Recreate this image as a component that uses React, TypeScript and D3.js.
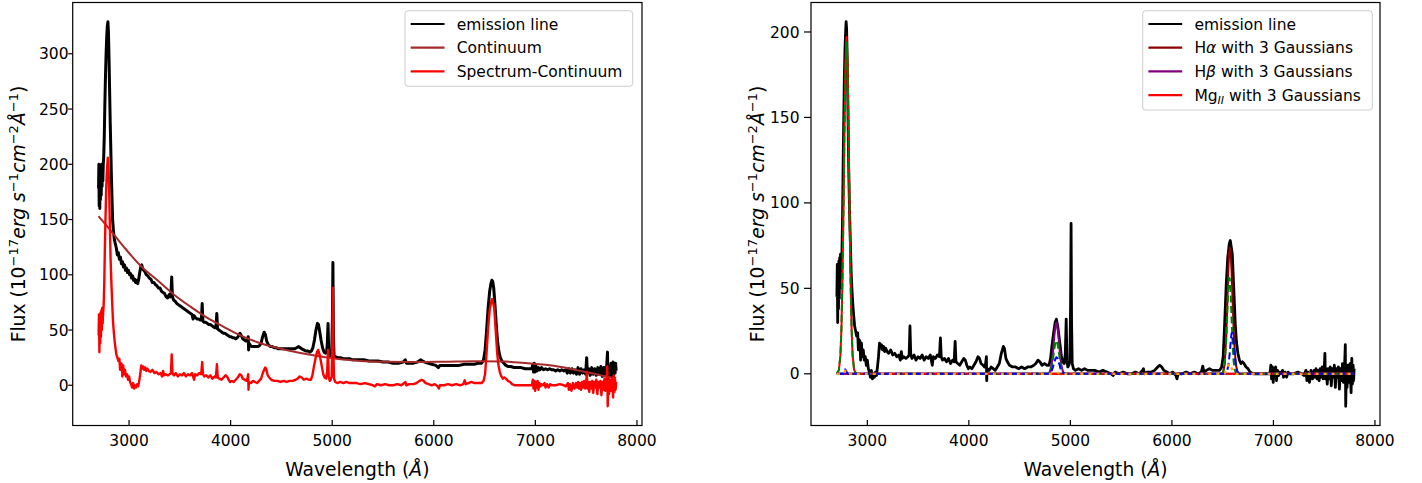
import React from 'react';
import * as d3 from 'd3';

type P = [number, number];

// Observed spectrum (left, black)
const observedSpectrum: P[] = [[2700,178],[2703,200],[2706,162],[2709,195],[2712,160],[2715,198],[2718,168],[2722,196],[2726,172],[2730,200],[2734,180],[2738,195],[2742,185],[2746,200],[2750,205],[2756,225],[2762,255],[2768,280],[2774,300],[2780,315],[2786,325],[2792,329],[2797,320],[2802,300],[2808,270],[2814,240],[2820,215],[2826,190],[2832,170],[2838,150],[2846,140],[2855,132],[2865,128],[2875,124],[2885,118],[2895,120],[2905,114],[2915,116],[2925,110],[2935,112],[2945,107],[2955,109],[2965,104],[2975,106],[2985,102],[2995,104],[3005,100],[3015,101],[3025,97],[3035,99],[3045,95],[3055,96],[3065,93],[3075,95],[3085,92],[3095,96],[3105,102],[3115,107],[3125,109],[3135,105],[3145,104],[3155,103],[3170,100],[3185,99],[3200,97],[3215,96],[3230,93],[3245,93],[3260,91],[3275,90],[3290,88],[3305,88],[3320,85],[3335,84],[3350,83],[3365,80],[3380,79],[3395,82],[3405,80],[3412,82],[3420,98],[3427,80],[3440,77],[3455,76],[3470,74],[3485,73],[3500,72],[3515,71],[3530,70],[3545,69],[3560,68],[3575,67],[3590,66],[3605,65],[3620,64],[3630,60],[3640,63],[3655,61],[3670,60],[3685,60],[3700,59],[3712,59],[3720,74],[3727,58],[3740,57],[3755,57],[3770,56],[3785,55],[3800,55],[3815,54],[3830,53],[3845,52],[3855,52],[3864,65],[3871,51],[3885,50],[3900,49],[3915,48],[3930,47],[3945,47],[3960,46],[3975,45],[3990,44],[4005,44],[4020,43],[4035,43],[4050,42],[4065,43],[4080,45],[4092,47],[4105,45],[4120,42],[4135,41],[4150,40],[4165,40],[4173,44],[4177,32],[4182,38],[4195,36],[4210,35],[4225,35],[4240,35],[4255,35],[4270,35],[4285,36],[4300,38],[4315,44],[4330,48],[4342,46],[4355,40],[4370,37],[4390,35],[4410,35],[4430,34],[4450,34],[4470,33],[4490,33],[4510,33],[4530,33],[4550,33],[4570,33],[4590,33],[4610,33],[4630,33],[4650,34],[4670,35],[4685,34],[4700,33],[4720,32],[4740,31],[4760,31],[4780,30],[4795,31],[4810,34],[4825,41],[4840,50],[4855,56],[4865,55],[4878,48],[4890,41],[4905,34],[4920,30],[4935,29],[4945,30],[4952,38],[4959,56],[4965,32],[4972,27],[4985,27],[4995,28],[5002,60],[5007,111],[5012,45],[5018,27],[5030,26],[5050,25],[5080,25],[5110,24],[5140,24],[5170,24],[5200,23],[5240,23],[5280,23],[5320,23],[5360,22],[5400,22],[5450,22],[5500,21],[5550,21],[5600,20],[5650,20],[5700,21],[5720,23],[5730,20],[5760,20],[5800,20],[5840,21],[5870,23],[5890,22],[5910,21],[5940,20],[5980,19],[6020,18],[6045,16],[6060,18],[6100,18],[6150,18],[6200,18],[6250,18],[6300,19],[6350,19],[6400,19],[6440,20],[6470,20],[6490,23],[6505,32],[6520,50],[6535,70],[6550,85],[6562,92],[6572,95],[6580,94],[6590,88],[6600,76],[6610,62],[6620,48],[6630,38],[6642,30],[6655,25],[6670,22],[6690,20],[6710,18],[6730,17],[6760,17],[6790,16],[6820,16],[6860,16],[6900,15],[6940,15],[6965,15],[6975,19],[6982,12],[6990,20],[6998,12],[7008,17],[7018,13],[7030,16],[7045,14],[7060,16],[7080,14],[7100,15],[7120,14],[7140,15],[7160,14],[7180,14],[7200,13],[7220,14],[7240,13],[7260,14],[7280,13],[7300,14],[7315,11],[7330,15],[7345,11],[7360,15],[7375,11],[7390,14],[7405,10],[7420,16],[7435,10],[7450,15],[7465,11],[7480,14],[7495,10],[7505,25],[7512,11],[7525,15],[7540,9],[7555,16],[7570,10],[7585,15],[7600,9],[7615,16],[7630,10],[7645,17],[7660,8],[7675,16],[7690,10],[7700,14],[7710,30],[7714,6],[7722,17],[7732,9],[7745,20],[7755,8],[7765,21],[7772,10],[7778,19],[7785,11],[7790,20],[7795,13]];

// Continuum fit (left, brown)
const continuumFit: P[] = [[2700,153],[2820,140],[2951,125],[3115,108],[3280,95],[3443,82],[3607,71],[3771,61],[3936,52.7],[4100,45],[4264,39],[4428,34.6],[4592,31],[4756,28],[4920,25.6],[5085,23.5],[5249,22.3],[5500,21.2],[5800,21],[6100,21.3],[6400,21.8],[6700,21.5],[6924,20],[7100,18.5],[7253,16.5],[7417,13.5],[7581,10.5],[7713,7.5],[7795,6.8]];

// Continuum-subtracted spectrum (left red, right black)
const residualSpectrum: P[] = [[2700,45],[2704,64],[2708,30],[2712,58],[2716,38],[2720,66],[2724,44],[2728,68],[2732,50],[2736,70],[2740,56],[2745,66],[2750,72],[2756,92],[2762,125],[2768,150],[2774,175],[2780,190],[2786,200],[2791,206],[2796,202],[2801,188],[2806,168],[2812,140],[2818,115],[2824,98],[2830,84],[2836,70],[2842,58],[2850,48],[2858,40],[2866,34],[2875,28],[2885,25],[2895,22],[2905,24],[2912,14],[2920,20],[2928,19],[2934,8],[2942,18],[2950,10],[2960,14],[2970,8],[2980,10],[2990,5],[3000,8],[3010,3],[3020,1],[3030,-2],[3040,2],[3050,-3],[3060,0],[3070,-2],[3080,1],[3090,-1],[3100,4],[3110,10],[3120,18],[3130,15],[3140,17],[3150,14],[3160,16],[3170,13],[3180,15],[3195,13],[3210,12],[3230,14],[3250,11],[3270,12],[3290,10],[3310,11],[3325,8],[3335,13],[3345,9],[3360,10],[3380,9],[3400,10],[3412,11],[3420,28],[3428,11],[3440,9],[3460,11],[3480,8],[3500,10],[3520,9],[3540,11],[3560,8],[3580,10],[3600,9],[3620,11],[3640,5],[3650,10],[3670,9],[3690,11],[3710,10],[3720,21],[3728,10],[3740,8],[3760,9],[3780,7],[3800,9],[3820,6],[3840,8],[3855,7],[3865,19],[3873,7],[3890,6],[3910,5],[3930,7],[3950,9],[3965,8],[3980,5],[3995,3],[4010,4],[4030,3],[4050,5],[4070,7],[4090,10],[4105,9],[4120,6],[4140,5],[4155,4],[4165,6],[4173,10],[4176,-4],[4180,3],[4200,2],[4220,4],[4240,3],[4260,2],[4280,4],[4300,6],[4320,12],[4340,16],[4350,15],[4365,9],[4380,7],[4400,5],[4430,4],[4460,4],[4490,3],[4520,4],[4550,3],[4580,4],[4610,4],[4640,5],[4660,6],[4680,8],[4700,7],[4720,5],[4745,6],[4770,5],[4790,5],[4805,9],[4820,17],[4835,24],[4850,30],[4862,32],[4875,28],[4888,22],[4900,16],[4912,10],[4925,7],[4940,6],[4950,12],[4959,32],[4966,8],[4975,4],[4985,5],[4995,8],[5002,40],[5007,88],[5012,30],[5018,6],[5030,3],[5050,2],[5080,3],[5110,2],[5140,3],[5170,2],[5200,2],[5240,2],[5280,1],[5320,2],[5360,1],[5400,0],[5420,-1],[5440,1],[5480,0],[5520,1],[5560,0],[5600,0],[5640,1],[5680,0],[5710,2],[5720,3],[5730,0],[5760,1],[5800,1],[5830,2],[5860,4],[5880,5],[5900,4],[5920,2],[5950,1],[5980,0],[6010,1],[6040,-1],[6050,-3],[6060,0],[6100,0],[6140,1],[6180,0],[6220,1],[6260,0],[6290,1],[6304,4.5],[6315,1],[6340,2],[6370,3],[6400,2],[6440,2],[6470,2],[6490,4],[6505,10],[6520,30],[6535,52],[6550,68],[6565,76],[6575,78],[6585,74],[6595,70],[6605,56],[6615,42],[6625,28],[6637,18],[6650,12],[6665,8],[6680,6],[6695,7],[6710,6],[6730,4],[6750,3],[6770,1],[6800,0],[6830,0],[6860,0],[6900,0],[6940,0],[6965,0],[6975,5],[6982,-3],[6990,4],[6998,-5],[7006,3],[7014,-2],[7022,4],[7030,-4],[7040,2],[7050,-1],[7060,1],[7075,0],[7090,2],[7100,-2],[7115,1],[7130,-2],[7145,1],[7160,0],[7200,0],[7240,1],[7280,0],[7300,-1],[7320,2],[7330,-4],[7340,1],[7355,-5],[7370,2],[7385,-3],[7400,2],[7410,-2],[7420,3],[7430,-3],[7440,2],[7450,-4],[7460,3],[7470,-2],[7480,4],[7490,-3],[7500,2],[7507,12],[7512,-3],[7520,3],[7530,-6],[7540,3],[7550,-3],[7560,4],[7570,-7],[7580,3],[7590,-2],[7600,5],[7610,-8],[7620,3],[7630,-2],[7640,4],[7650,-9],[7660,3],[7670,-4],[7680,6],[7690,-5],[7700,3],[7708,17],[7712,-19],[7718,3],[7725,-8],[7735,5],[7745,-5],[7755,6],[7765,-11],[7772,9],[7778,-6],[7785,5],[7790,-4],[7795,3]];

// Model fits (right)
const haModel: P[] = [[2700,0],[6470,0],[6490,0.1],[6505,0.9],[6520,6],[6535,21.8],[6545,39.8],[6555,59.2],[6563,70.3],[6570,73.8],[6578,71.6],[6588,59.7],[6598,42.9],[6608,25.9],[6618,14.2],[6630,5.9],[6643,1.5],[6660,0.2],[6680,0],[7795,0]];
const hbModel: P[] = [[2700,0],[4780,0.1],[4797,1.1],[4812,4.5],[4822,8.8],[4832,15],[4842,22],[4852,27.5],[4862,30],[4872,28],[4882,22.6],[4892,15.8],[4902,9.2],[4912,4.8],[4927,1.3],[4945,0.2],[4960,0],[7795,0]];
const mg2Model: P[] = [[2700,0.1],[2720,2.2],[2735,11],[2745,26.7],[2755,54.7],[2765,96],[2775,143],[2785,182],[2795,197],[2805,182],[2815,143],[2825,96],[2835,54.7],[2845,26.7],[2855,11],[2870,2.2],[2890,0.1],[7795,0]];
const gaussComp1: P[] = [[2700,0.1],[2720,2.2],[2735,10.8],[2745,26.3],[2755,53.9],[2765,94.6],[2775,141],[2785,179],[2795,194],[2805,179],[2815,141],[2825,94.6],[2835,53.9],[2845,26.3],[2855,10.8],[2870,2.2],[2890,0.1],[4780,0.1],[4797,0.8],[4812,3],[4822,5.8],[4832,10],[4842,14.5],[4852,18.1],[4862,19.5],[4872,18.1],[4882,14.5],[4892,10],[4902,5.8],[4912,3],[4927,0.8],[4945,0.1],[6470,0],[6490,0.1],[6505,0.8],[6520,5.3],[6535,19.3],[6545,34.4],[6555,49.4],[6563,56],[6570,55.6],[6578,48.5],[6588,32.7],[6598,17.5],[6608,7.2],[6618,2.6],[6630,0.5],[6643,0.05],[6660,0],[7795,0]];
const gaussComp2: P[] = [[2700,0],[2755,0],[2765,0.5],[2775,2],[2782,2.6],[2790,2],[2800,0.5],[2815,0],[4780,0],[4797,0.3],[4812,1.3],[4822,2.7],[4832,4.6],[4842,6.9],[4852,8.7],[4862,9.7],[4872,9.2],[4882,7.5],[4892,5.4],[4902,3.2],[4912,1.7],[4927,0.5],[4945,0.1],[6520,0],[6535,0.5],[6545,1.8],[6555,4.6],[6563,8.4],[6570,12.3],[6578,18],[6588,23.7],[6598,23.7],[6608,18],[6618,11.3],[6630,5.3],[6643,1.4],[6658,0.2],[6680,0],[7795,0]];
const gaussComp3: P[] = [[2700,0],[2760,0],[2780,1.5],[2795,2.5],[2810,1.5],[2830,0],[4820,0],[4862,0.8],[4905,0],[6520,0],[6535,2],[6545,3.6],[6555,5.2],[6566,6],[6578,5.1],[6588,3.3],[6598,1.7],[6612,0.5],[6630,0],[7795,0]];

const xTickValues = [3000, 4000, 5000, 6000, 7000, 8000];
const leftYTickValues = [0, 50, 100, 150, 200, 250, 300];
const rightYTickValues = [0, 50, 100, 150, 200];

const FONT = "'DejaVu Sans', sans-serif";
const TOP = 2.5;
const BOTTOM = 425.5;

function padExtent(vals: number[]): [number, number] {
  const [a, b] = d3.extent(vals) as [number, number];
  const m = (b - a) * 0.05;
  return [a - m, b + m];
}

const YLabel = ({ x }: { x: number }) => (
  <text transform={`translate(${x},${(TOP + BOTTOM) / 2}) rotate(-90)`} textAnchor="middle" fontFamily={FONT} fontSize={18.7} fill="#000">
    <tspan>Flux (10</tspan>
    <tspan fontSize={13.1} dy={-7.5}>−17</tspan>
    <tspan fontStyle="italic" dy={7.5}>erg s</tspan>
    <tspan fontSize={13.1} dy={-7.5}>−1</tspan>
    <tspan fontStyle="italic" dy={7.5}>cm</tspan>
    <tspan fontSize={13.1} dy={-7.5}>−2</tspan>
    <tspan fontStyle="italic" dy={7.5}>Å</tspan>
    <tspan fontSize={13.1} dy={-7.5}>−1</tspan>
    <tspan dy={7.5}>)</tspan>
  </text>
);

interface PanelProps {
  x0: number; x1: number;
  yVals: number[];
  yTicks: number[];
  yTickLen: number;
  yLabelEnd: number;
  yLabelX: number;
  children: (x: d3.ScaleLinear<number, number>, y: d3.ScaleLinear<number, number>) => React.ReactNode;
}

function Panel({ x0, x1, yVals, yTicks, yTickLen, yLabelEnd, yLabelX, children }: PanelProps) {
  const xVals = observedSpectrum.map(d => d[0]).concat(residualSpectrum.map(d => d[0]));
  const x = d3.scaleLinear().domain(padExtent(xVals)).range([x0, x1]);
  const y = d3.scaleLinear().domain(padExtent(yVals)).range([BOTTOM, TOP]);
  return (
    <g>
      {children(x, y)}
      <rect x={x0} y={TOP} width={x1 - x0} height={BOTTOM - TOP} fill="none" stroke="#000" strokeWidth={1.2} />
      {xTickValues.map(t => (
        <g key={t}>
          <line x1={x(t)} x2={x(t)} y1={BOTTOM} y2={BOTTOM - 5.5} stroke="#000" strokeWidth={1.2} />
          <text x={x(t)} y={446} textAnchor="middle" fontFamily={FONT} fontSize={15.5}>{t}</text>
        </g>
      ))}
      {yTicks.map(t => (
        <g key={t}>
          <line x1={x0} x2={x0 - yTickLen} y1={y(t)} y2={y(t)} stroke="#000" strokeWidth={1.2} />
          <text x={yLabelEnd} y={y(t) + 5.6} textAnchor="end" fontFamily={FONT} fontSize={15.5}>{t}</text>
        </g>
      ))}
      <text x={(x0 + x1) / 2} y={476} textAnchor="middle" fontFamily={FONT} fontSize={18.7}>
        <tspan>Wavelength (</tspan><tspan fontStyle="italic">Å</tspan><tspan>)</tspan>
      </text>
      <YLabel x={yLabelX} />
    </g>
  );
}

function Legend({ x0, x1, y0, items }: { x0: number; x1: number; y0: number; items: { color: string; label: React.ReactNode }[] }) {
  const rowH = 23.7;
  const h = items.length * rowH + 4.5;
  return (
    <g>
      <rect x={x0} y={y0} width={x1 - x0} height={h} rx={3} fill="#fff" fillOpacity={0.8} stroke="#cccccc" strokeWidth={1} />
      {items.map((it, i) => {
        const cy = y0 + 13.3 + i * rowH;
        return (
          <g key={i}>
            <line x1={x0 + 5.7} x2={x0 + 39.5} y1={cy} y2={cy} stroke={it.color} strokeWidth={2.2} />
            <text x={x0 + 51.7} y={cy + 5.6} fontFamily={FONT} fontSize={15.5}>{it.label}</text>
          </g>
        );
      })}
    </g>
  );
}

export default function App() {
  const leftY = observedSpectrum.map(d => d[1]).concat(residualSpectrum.map(d => d[1]), continuumFit.map(d => d[1]));
  const rightY = residualSpectrum.map(d => d[1]).concat(mg2Model.map(d => d[1]), haModel.map(d => d[1]));
  return (
    <svg width={1422} height={483} style={{ position: 'absolute', left: 0, top: 0, display: 'block', background: '#fff' }}>
      <Panel x0={72.7} x1={642} yVals={leftY} yTicks={leftYTickValues} yTickLen={4.5} yLabelEnd={68.5} yLabelX={25}>
        {(x, y) => {
          const ln = d3.line<P>().x(d => x(d[0])).y(d => y(d[1]));
          const smooth = d3.line<P>().x(d => x(d[0])).y(d => y(d[1])).curve(d3.curveMonotoneX);
          return (
            <g fill="none" strokeLinejoin="round">
              <path d={ln(observedSpectrum) || ''} stroke="#000" strokeWidth={3} />
              <path d={smooth(continuumFit) || ''} stroke="#a52a2a" strokeWidth={2} />
              <path d={ln(residualSpectrum) || ''} stroke="#ff0000" strokeWidth={2.4} />
            </g>
          );
        }}
      </Panel>
      <Panel x0={811} x1={1380} yVals={rightY} yTicks={rightYTickValues} yTickLen={7} yLabelEnd={799.5} yLabelX={764}>
        {(x, y) => {
          const ln = d3.line<P>().x(d => x(d[0])).y(d => y(d[1]));
          return (
            <g fill="none" strokeLinejoin="round">
              <path d={ln(residualSpectrum) || ''} stroke="#000" strokeWidth={2.8} />
              <path d={ln(haModel) || ''} stroke="#8b0000" strokeWidth={2} />
              <path d={ln(hbModel) || ''} stroke="#800080" strokeWidth={2} />
              <path d={ln(mg2Model) || ''} stroke="#ff0000" strokeWidth={2} />
              <path d={ln(gaussComp1) || ''} stroke="#008000" strokeWidth={2} strokeDasharray="7 3.5" />
              <path d={ln(gaussComp2) || ''} stroke="#0000ff" strokeWidth={2} strokeDasharray="7 3.5" />
              <path d={ln(gaussComp3) || ''} stroke="#ffa500" strokeWidth={2.2} strokeDasharray="3 5" />
            </g>
          );
        }}
      </Panel>
      <Legend x0={405} x1={632.7} y0={10.7} items={[
        { color: '#000', label: 'emission line' },
        { color: '#a52a2a', label: 'Continuum' },
        { color: '#ff0000', label: 'Spectrum-Continuum' },
      ]} />
      <Legend x0={1142.7} x1={1372.3} y0={10.7} items={[
        { color: '#000', label: 'emission line' },
        { color: '#8b0000', label: <><tspan>H</tspan><tspan fontStyle="italic">α</tspan><tspan> with 3 Gaussians</tspan></> },
        { color: '#800080', label: <><tspan>H</tspan><tspan fontStyle="italic">β</tspan><tspan> with 3 Gaussians</tspan></> },
        { color: '#ff0000', label: <><tspan>Mg</tspan><tspan fontStyle="italic" fontSize={11} dy={3.5}>II</tspan><tspan dy={-3.5}> with 3 Gaussians</tspan></> },
      ]} />
    </svg>
  );
}
